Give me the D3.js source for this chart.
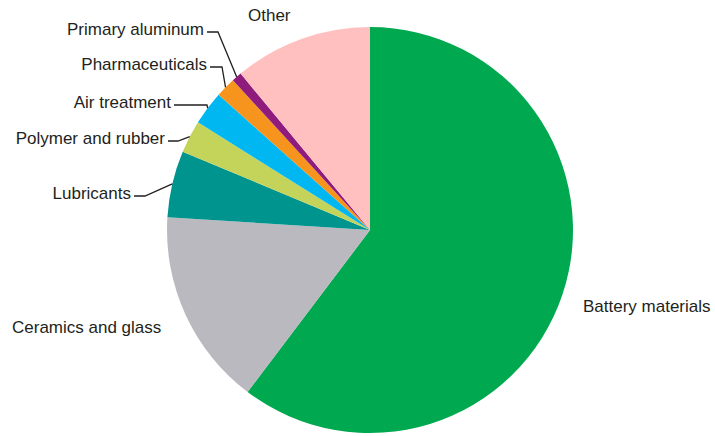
<!DOCTYPE html>
<html>
<head>
<meta charset="utf-8">
<script src="https://cdn.jsdelivr.net/npm/d3@7"></script>
<style>
  html, body { margin: 0; padding: 0; background: #fff; }
  text { font-family: "Liberation Sans", Arial, sans-serif; font-size: 17px; fill: #231f20; }
</style>
</head>
<body>
<div id="chart"></div>
<script>
// end uses, clockwise from 12 o'clock
const categories = ["Battery materials", "Ceramics and glass", "Lubricants", "Polymer and rubber",
                    "Air treatment", "Pharmaceuticals", "Primary aluminum", "Other"];
const shares = [60.3, 15.7, 5.3, 2.6, 2.7, 1.6, 0.8, 11.0];
const colors = ["#00a94f", "#bab9c0", "#00948f", "#c4d45b", "#00b7f1", "#f7941d", "#8f1c7d", "#ffc0bf"];

const width = 715, height = 436;
const cx = 370, cy = 230, r = 203;

// label layout: anchor point, and elbow x for the leader (null = no leader)
const labelLayout = {
  "Battery materials":  {x: 583, y: 312, anchor: "start", elbow: null},
  "Ceramics and glass": {x: 12,  y: 333, anchor: "start", elbow: null},
  "Other":              {x: 248, y: 21,  anchor: "start", elbow: null},
  "Primary aluminum":   {x: 204, y: 35,  anchor: "end", elbow: 218},
  "Pharmaceuticals":    {x: 207, y: 70,  anchor: "end", elbow: 222},
  "Air treatment":      {x: 171, y: 108, anchor: "end", elbow: 207},
  "Polymer and rubber": {x: 165, y: 144, anchor: "end", elbow: 178},
  "Lubricants":         {x: 131, y: 199, anchor: "end", elbow: 145}
};

const data = categories.map((c, i) => ({name: c, value: shares[i], color: colors[i]}));

const pie = d3.pie().sort(null).value(d => d.value);
const arc = d3.arc().innerRadius(0).outerRadius(r);
const rim = d3.arc().innerRadius(r).outerRadius(r);

const svg = d3.select("#chart").append("svg")
  .attr("width", width)
  .attr("height", height);

const g = svg.append("g").attr("transform", `translate(${cx},${cy})`);

const arcs = pie(data);

g.selectAll("path.slice")
  .data(arcs)
  .join("path")
  .attr("class", "slice")
  .attr("d", arc)
  .attr("fill", d => d.data.color);

// leaders
const leaders = arcs.filter(d => labelLayout[d.data.name].elbow !== null);
svg.append("g")
  .attr("fill", "none")
  .attr("stroke", "#231f20")
  .attr("stroke-width", 1.3)
  .selectAll("polyline")
  .data(leaders)
  .join("polyline")
  .attr("points", d => {
    const L = labelLayout[d.data.name];
    const [px, py] = rim.centroid(d);
    const ly = L.y - 3;
    return [[L.x + 3, ly], [L.elbow, ly], [cx + px, cy + py]].map(p => p.join(",")).join(" ");
  });

svg.append("g")
  .selectAll("text")
  .data(arcs)
  .join("text")
  .attr("x", d => labelLayout[d.data.name].x)
  .attr("y", d => labelLayout[d.data.name].y)
  .attr("text-anchor", d => labelLayout[d.data.name].anchor)
  .text(d => d.data.name);
</script>
</body>
</html>
